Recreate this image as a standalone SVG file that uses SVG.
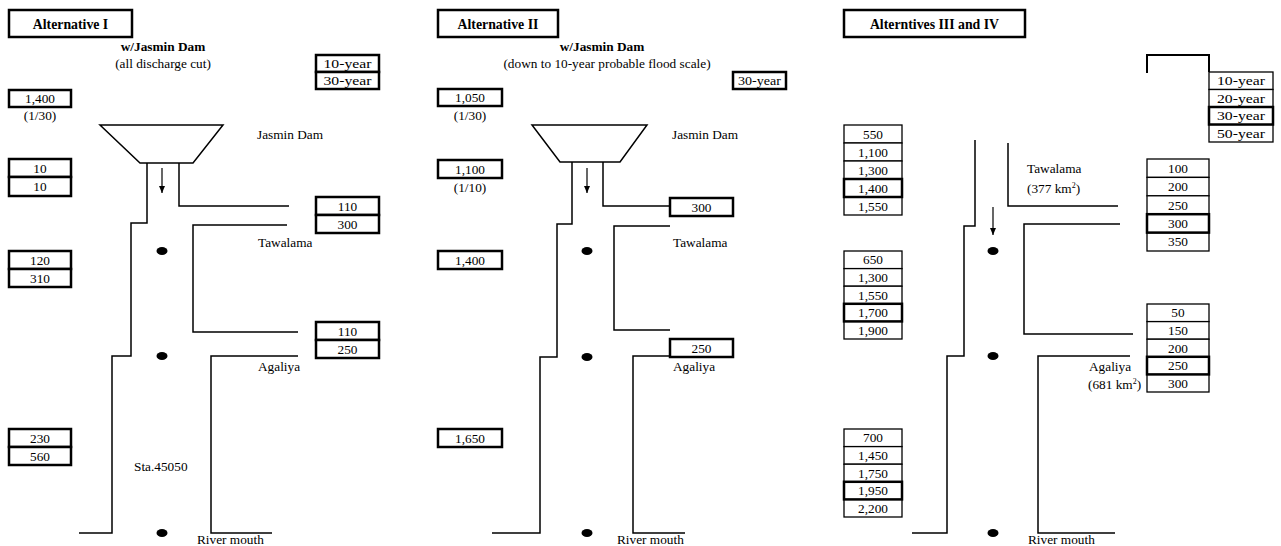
<svg xmlns="http://www.w3.org/2000/svg" width="1281" height="546" viewBox="0 0 1281 546">
<style>
.box{fill:#fff;stroke:#000;stroke-width:2.5}
.thin{stroke-width:1.3}
text{font-family:"Liberation Serif","Times New Roman",serif;font-size:13.3px;fill:#000}
.c{text-anchor:middle}
.b{font-weight:bold;font-size:13.8px}
.ln{fill:none;stroke:#000;stroke-width:1.5}
.dam{fill:#fff;stroke:#000;stroke-width:1.5}
.dot{fill:#000}
.arr{stroke:#000;stroke-width:1.2;marker-end:url(#ah)}
</style>
<defs>
<marker id="ah" markerWidth="8" markerHeight="8" refX="7" refY="4" orient="auto" markerUnits="userSpaceOnUse">
<path d="M0,1 L7,4 L0,7 Z" fill="#000"/>
</marker>
</defs>
<rect width="1281" height="546" fill="#fff"/>

<!-- connectors: river banks and flow arrows -->
<g id="connectors">
<path class="ln" d="M147,163 V223 H131 V356 H112 V533 H79"/>
<path class="ln" d="M179,163 V206 H289"/>
<path class="ln" d="M287,225 H193 V332 H298"/>
<path class="ln" d="M298,356 H211 V533 H272"/>
<line class="arr" x1="162" y1="168" x2="162" y2="193"/>

<path class="ln" d="M572,162 V224 H557 V357 H540 V533 H492"/>
<path class="ln" d="M603,162 V206 H670"/>
<path class="ln" d="M670,226 H614 V330 H670"/>
<path class="ln" d="M670,356 H633 V533 H685"/>
<line class="arr" x1="587" y1="168" x2="587" y2="193"/>

<path class="ln" d="M975,140 V226 H964 V356 H947 V533 H912"/>
<path class="ln" d="M1008,143 V206 H1118"/>
<path class="ln" d="M1120,224 H1024 V334 H1133"/>
<path class="ln" d="M1130,356 H1038 V533 H1115"/>
<path class="ln" d="M1147,73 V55 H1209 V72" style="stroke-width:2"/>
<line class="arr" x1="993" y1="207" x2="993" y2="235"/>
</g>

<!-- ===== Alternative I ===== -->
<g id="alt1-title"><rect class="box" x="9" y="10" width="123" height="27"/><text class="c b" x="70.5" y="28.5">Alternative I</text></g>
<g id="alt1-subtitle"><text class="c b" x="163" y="51" style="font-size:13.3px">w/Jasmin Dam</text><text class="c" x="163" y="68">(all discharge cut)</text></g>
<g id="alt1-years"><rect class="box" x="316" y="55" width="63" height="17"/><text class="c" x="347.5" y="68" textLength="48" lengthAdjust="spacingAndGlyphs">10-year</text>
<rect class="box" x="316" y="72" width="63" height="17"/><text class="c" x="347.5" y="85" textLength="48" lengthAdjust="spacingAndGlyphs">30-year</text></g>
<g id="alt1-q-dam"><rect class="box" x="9" y="90" width="62" height="17"/><text class="c" x="40" y="103">1,400</text><text class="c" x="40" y="120">(1/30)</text></g>
<g id="alt1-dam"><polygon class="dam" points="100,125 223,125 193,163 140,163"/><text x="257" y="139">Jasmin Dam</text></g>
<g id="alt1-q-upper"><rect class="box" x="9" y="159" width="62" height="18"/><text class="c" x="40" y="172.5">10</text>
<rect class="box" x="9" y="177" width="62" height="19"/><text class="c" x="40" y="191">10</text></g>
<g id="alt1-tawalama-in"><rect class="box" x="316" y="197" width="63" height="18"/><text class="c" x="347.5" y="210.5">110</text>
<rect class="box" x="316" y="215" width="63" height="18"/><text class="c" x="347.5" y="228.5">300</text></g>
<g id="alt1-tawalama"><ellipse class="dot" cx="162" cy="251" rx="5.5" ry="4"/><text x="258" y="247">Tawalama</text></g>
<g id="alt1-q-mid"><rect class="box" x="9" y="251" width="62" height="18"/><text class="c" x="40" y="264.5">120</text>
<rect class="box" x="9" y="269" width="62" height="18"/><text class="c" x="40" y="282.5">310</text></g>
<g id="alt1-agaliya-in"><rect class="box" x="316" y="322" width="63" height="18"/><text class="c" x="347.5" y="335.5">110</text>
<rect class="box" x="316" y="340" width="63" height="18"/><text class="c" x="347.5" y="353.5">250</text></g>
<g id="alt1-agaliya"><ellipse class="dot" cx="162" cy="356" rx="5.5" ry="4"/><text x="258" y="371">Agaliya</text></g>
<g id="alt1-q-low"><rect class="box" x="9" y="429" width="62" height="18"/><text class="c" x="40" y="442.5">230</text>
<rect class="box" x="9" y="447" width="62" height="18"/><text class="c" x="40" y="460.5">560</text></g>
<g id="alt1-sta"><text x="134" y="471">Sta.45050</text></g>
<g id="alt1-mouth"><ellipse class="dot" cx="162" cy="533" rx="5.5" ry="4"/><text x="197" y="544">River mouth</text></g>

<!-- ===== Alternative II ===== -->
<g id="alt2-title"><rect class="box" x="438" y="10" width="120" height="27"/><text class="c b" x="498" y="28.5">Alternative II</text></g>
<g id="alt2-subtitle"><text class="c b" x="602" y="51" style="font-size:13.3px">w/Jasmin Dam</text><text class="c" x="607" y="68">(down to 10-year probable flood scale)</text></g>
<g id="alt2-years"><rect class="box" x="733" y="72" width="53" height="17"/><text class="c" x="759.5" y="85" textLength="43" lengthAdjust="spacingAndGlyphs">30-year</text></g>
<g id="alt2-q-dam30"><rect class="box" x="438" y="89" width="64" height="17"/><text class="c" x="470" y="102">1,050</text><text class="c" x="470" y="120">(1/30)</text></g>
<g id="alt2-dam"><polygon class="dam" points="532,125 647,125 620,162 560,162"/><text x="672" y="139">Jasmin Dam</text></g>
<g id="alt2-q-dam10"><rect class="box" x="438" y="160" width="64" height="18"/><text class="c" x="470" y="173.5">1,100</text><text class="c" x="470" y="192">(1/10)</text></g>
<g id="alt2-tawalama-in"><rect class="box" x="670" y="198" width="63" height="18"/><text class="c" x="701.5" y="211.5">300</text></g>
<g id="alt2-tawalama"><ellipse class="dot" cx="587" cy="251" rx="5.5" ry="4"/><text x="673" y="247">Tawalama</text></g>
<g id="alt2-q-mid"><rect class="box" x="438" y="251" width="64" height="18"/><text class="c" x="470" y="264.5">1,400</text></g>
<g id="alt2-agaliya-in"><rect class="box" x="670" y="339" width="63" height="18"/><text class="c" x="701.5" y="352.5">250</text></g>
<g id="alt2-agaliya"><ellipse class="dot" cx="587" cy="357" rx="5.5" ry="4"/><text x="673" y="371">Agaliya</text></g>
<g id="alt2-q-low"><rect class="box" x="438" y="429" width="64" height="18"/><text class="c" x="470" y="442.5">1,650</text></g>
<g id="alt2-mouth"><ellipse class="dot" cx="587" cy="533" rx="5.5" ry="4"/><text x="617" y="544">River mouth</text></g>

<!-- ===== Alternatives III and IV ===== -->
<g id="alt3-title"><rect class="box" x="844" y="10" width="181" height="27"/><text class="c b" x="934.5" y="28.5">Alterntives III and IV</text></g>
<g id="alt3-years">
<rect class="box thin" x="1209" y="72" width="64" height="17.5"/><text class="c" x="1241" y="85" textLength="48" lengthAdjust="spacingAndGlyphs">10-year</text>
<rect class="box thin" x="1209" y="89.5" width="64" height="17.5"/><text class="c" x="1241" y="102.5" textLength="48" lengthAdjust="spacingAndGlyphs">20-year</text>
<rect class="box thin" x="1209" y="124.5" width="64" height="17.5"/><text class="c" x="1241" y="137.5" textLength="48" lengthAdjust="spacingAndGlyphs">50-year</text>
<rect class="box" x="1209" y="107" width="64" height="17.5"/><text class="c" x="1241" y="120" textLength="48" lengthAdjust="spacingAndGlyphs">30-year</text>
</g>
<g id="alt3-q-upper">
<rect class="box thin" x="844" y="125" width="58" height="18"/><text class="c" x="873" y="138.5">550</text>
<rect class="box thin" x="844" y="143" width="58" height="18"/><text class="c" x="873" y="156.5">1,100</text>
<rect class="box thin" x="844" y="161" width="58" height="18"/><text class="c" x="873" y="174.5">1,300</text>
<rect class="box thin" x="844" y="197" width="58" height="18"/><text class="c" x="873" y="210.5">1,550</text>
<rect class="box" x="844" y="179" width="58" height="18"/><text class="c" x="873" y="192.5">1,400</text>
</g>
<g id="alt3-tawalama-label"><text x="1027" y="173">Tawalama</text><text x="1027" y="193">(377 km<tspan dy="-5" style="font-size:8px">2</tspan><tspan dy="5">)</tspan></text></g>
<g id="alt3-tawalama-in">
<rect class="box thin" x="1147" y="159" width="62" height="18.4"/><text class="c" x="1178" y="172.7">100</text>
<rect class="box thin" x="1147" y="177.4" width="62" height="18.4"/><text class="c" x="1178" y="191.1">200</text>
<rect class="box thin" x="1147" y="195.8" width="62" height="18.4"/><text class="c" x="1178" y="209.5">250</text>
<rect class="box thin" x="1147" y="232.6" width="62" height="18.4"/><text class="c" x="1178" y="246.3">350</text>
<rect class="box" x="1147" y="214.2" width="62" height="18.4"/><text class="c" x="1178" y="227.9">300</text>
</g>
<g id="alt3-tawalama"><ellipse class="dot" cx="993" cy="251" rx="5.5" ry="4"/></g>
<g id="alt3-q-mid">
<rect class="box thin" x="844" y="251" width="58" height="17.6"/><text class="c" x="873" y="264.3">650</text>
<rect class="box thin" x="844" y="268.6" width="58" height="17.6"/><text class="c" x="873" y="281.9">1,300</text>
<rect class="box thin" x="844" y="286.2" width="58" height="17.6"/><text class="c" x="873" y="299.5">1,550</text>
<rect class="box thin" x="844" y="321.4" width="58" height="17.6"/><text class="c" x="873" y="334.7">1,900</text>
<rect class="box" x="844" y="303.8" width="58" height="17.6"/><text class="c" x="873" y="317.1">1,700</text>
</g>
<g id="alt3-agaliya-in">
<rect class="box thin" x="1147" y="304" width="62" height="17.6"/><text class="c" x="1178" y="317.3">50</text>
<rect class="box thin" x="1147" y="321.6" width="62" height="17.6"/><text class="c" x="1178" y="334.9">150</text>
<rect class="box thin" x="1147" y="339.2" width="62" height="17.6"/><text class="c" x="1178" y="352.5">200</text>
<rect class="box thin" x="1147" y="374.4" width="62" height="17.6"/><text class="c" x="1178" y="387.7">300</text>
<rect class="box" x="1147" y="356.8" width="62" height="17.6"/><text class="c" x="1178" y="370.1">250</text>
</g>
<g id="alt3-agaliya"><ellipse class="dot" cx="993" cy="356" rx="5.5" ry="4"/><text x="1089" y="371">Agaliya</text><text x="1088" y="389">(681 km<tspan dy="-5" style="font-size:8px">2</tspan><tspan dy="5">)</tspan></text></g>
<g id="alt3-q-low">
<rect class="box thin" x="844" y="429" width="58" height="17.6"/><text class="c" x="873" y="442.3">700</text>
<rect class="box thin" x="844" y="446.6" width="58" height="17.6"/><text class="c" x="873" y="459.9">1,450</text>
<rect class="box thin" x="844" y="464.2" width="58" height="17.6"/><text class="c" x="873" y="477.5">1,750</text>
<rect class="box thin" x="844" y="499.4" width="58" height="17.6"/><text class="c" x="873" y="512.7">2,200</text>
<rect class="box" x="844" y="481.8" width="58" height="17.6"/><text class="c" x="873" y="495.1">1,950</text>
</g>
<g id="alt3-mouth"><ellipse class="dot" cx="993" cy="533" rx="5.5" ry="4"/><text x="1028" y="544">River mouth</text></g>
</svg>
